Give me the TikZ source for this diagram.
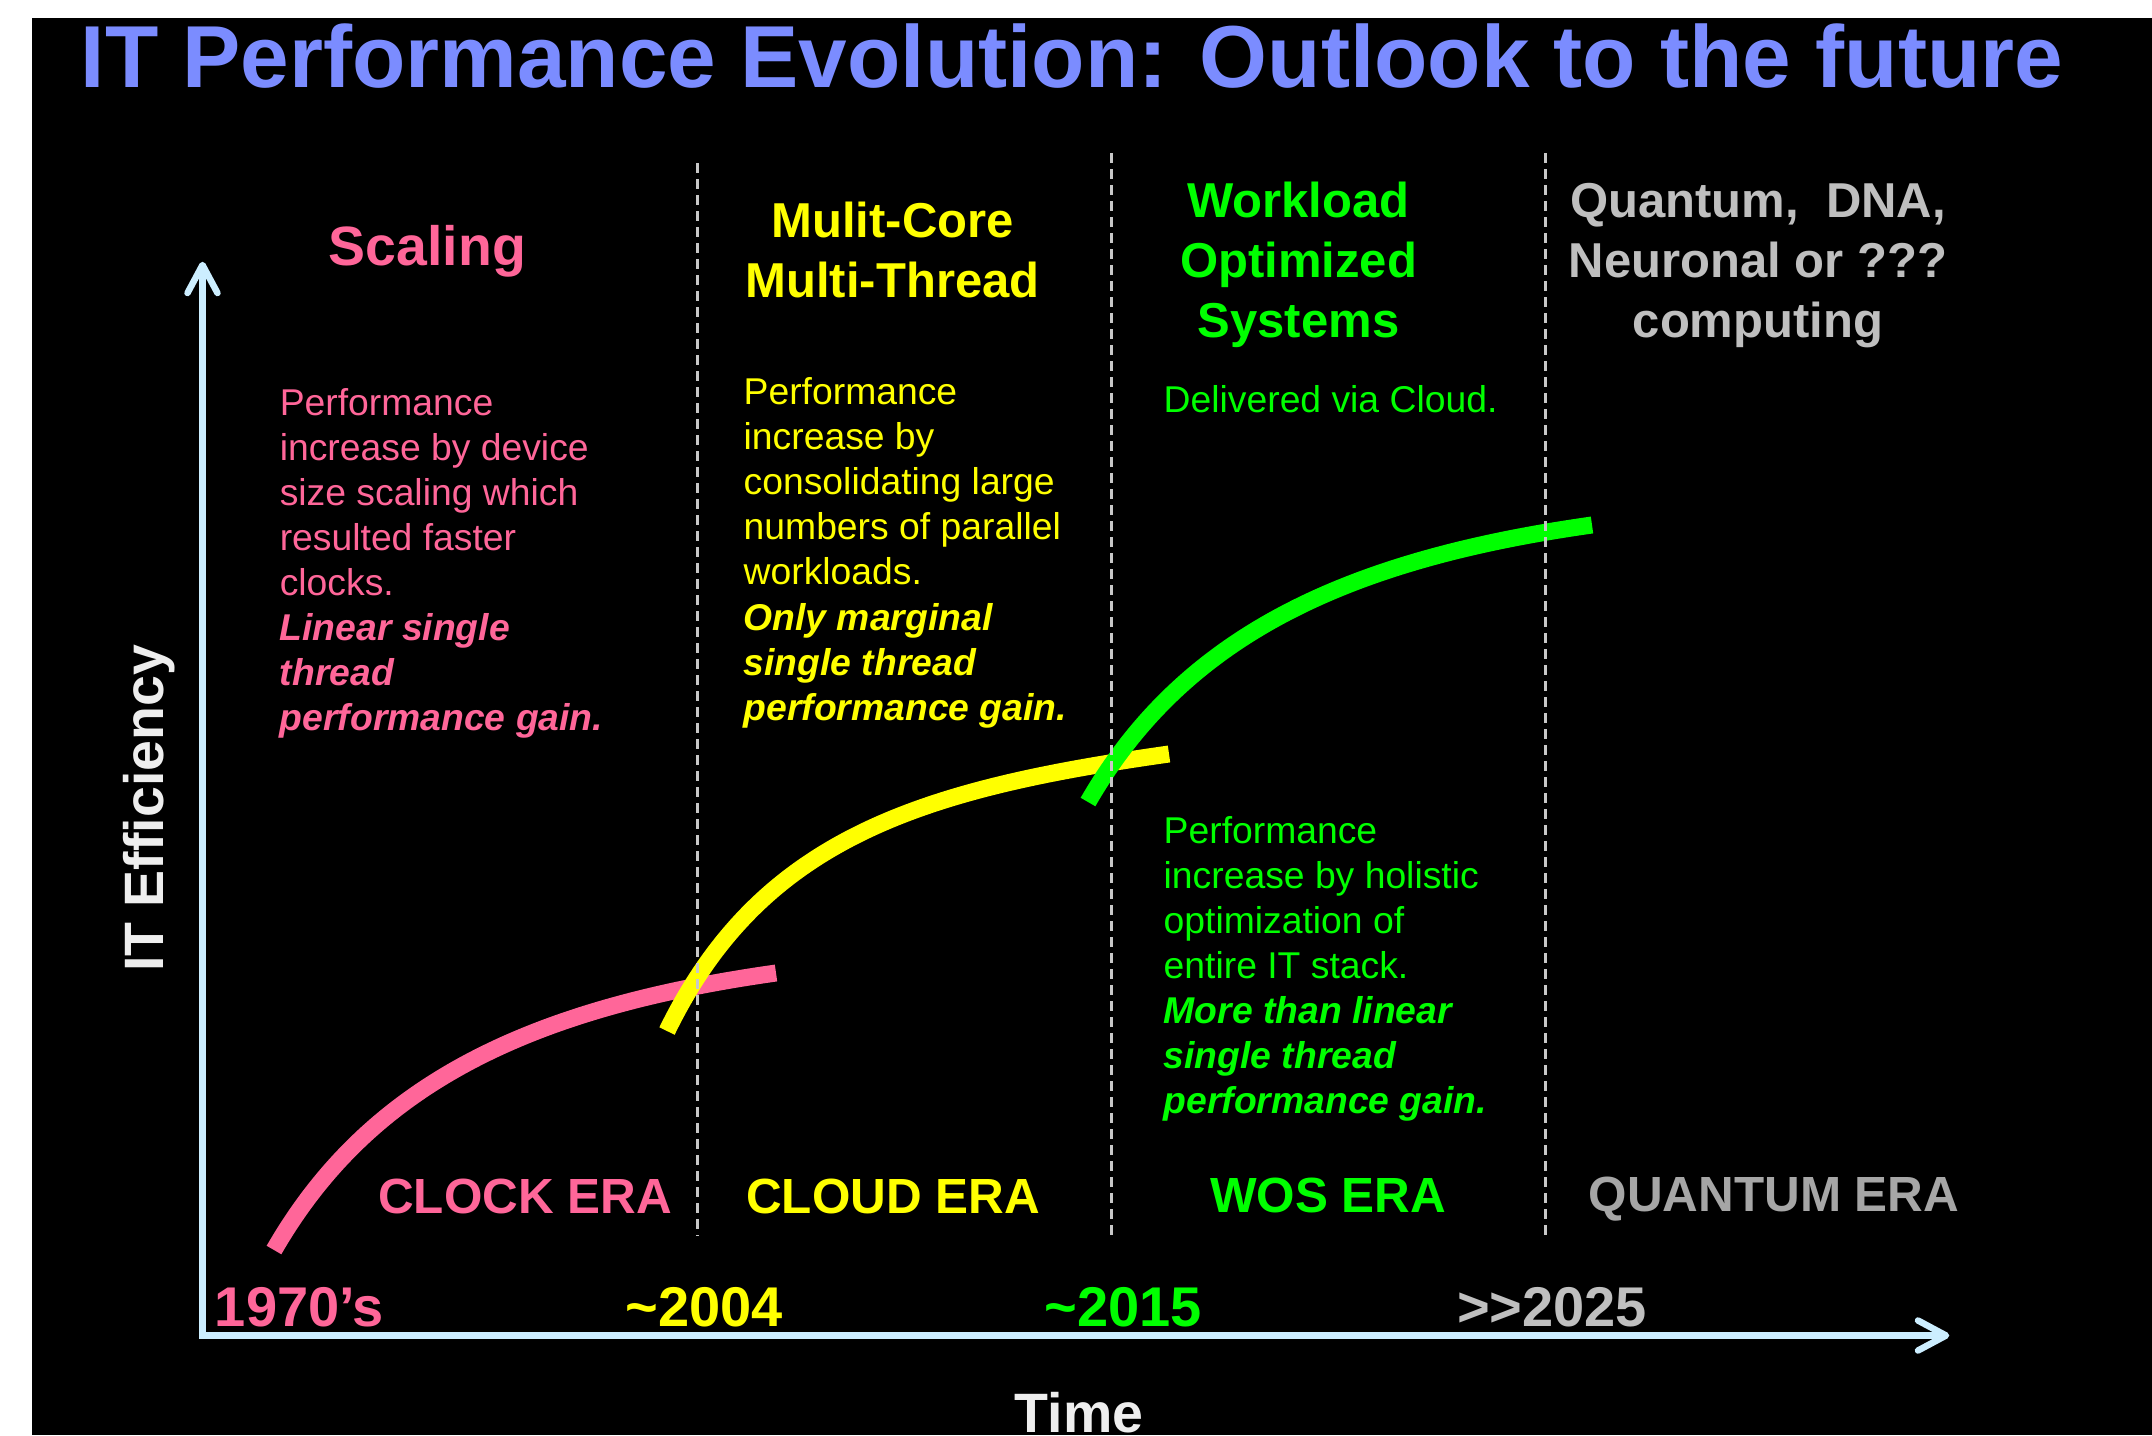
\documentclass[tikz,border=0pt]{standalone}
\usepackage{fontspec}
\setmainfont{Liberation Sans}
\usepackage{graphicx}

\definecolor{titleblue}{HTML}{7B8CFF}
\definecolor{pinkc}{HTML}{FF6699}
\definecolor{yellowc}{HTML}{FFFF00}
\definecolor{greenc}{HTML}{00FF00}
\definecolor{grayhead}{HTML}{BFBFBF}
\definecolor{grayera}{HTML}{A6A6A6}
\definecolor{axisblue}{HTML}{CCEEFF}
\definecolor{dashgray}{HTML}{C8C8C8}
\definecolor{labelwhite}{HTML}{EEEEEE}

% bold italic line inside a text block
\newcommand\bishape[1]{{\bfseries\itshape #1}}

\begin{document}
\begin{tikzpicture}[x=1pt,y=-1pt,
  every node/.style={inner sep=0pt, outer sep=0pt},
  lbl/.style={anchor=base},
  heading/.style={lbl, font=\fontsize{49}{60}\selectfont\bfseries},
  body/.style={anchor=base west, font=\fontsize{37.3}{45.1}\selectfont},
  era/.style={lbl, font=\fontsize{49.4}{59}\selectfont\bfseries},
  datelbl/.style={lbl, font=\fontsize{56}{67}\selectfont\bfseries},
  axislbl/.style={lbl, text=labelwhite, font=\fontsize{55.5}{66}\selectfont\bfseries},
  divider/.style={dashgray, line width=2.2pt, dash pattern=on 10pt off 6pt},
  trend/.style={line width=17pt, line cap=butt},
  axisline/.style={axisblue, line width=6.5pt, line cap=round, line join=miter},
  axishead/.style={axisblue, line width=6.5pt, line cap=round, line join=round},
]
% page and black slide area
\useasboundingbox (0,0) rectangle (2152,1435);
\fill[white] (0,0) rectangle (2152,1435);
\fill[black] (32,18) rectangle (2152,1435);

% performance curves of the three eras
\draw[trend, pinkc]   (274,1250) .. controls (369,1085) and (528,1008) .. (776,973);
\draw[trend, yellowc] (667,1031) .. controls (761,838) and (921,789) .. (1169,754);
\draw[trend, greenc]  (1088,802) .. controls (1183,637) and (1344,560) .. (1592,525);

% era dividers
\draw[divider] (697.5,163) -- (697.5,1236);
\draw[divider] (1111.5,153) -- (1111.5,1236);
\draw[divider] (1545.5,153) -- (1545.5,1236);

% axes
\draw[axisline] (202.5,268) -- (202.5,1335.5) -- (1943,1335.5);
\draw[axishead] (187.5,293) -- (202.5,265) -- (217.5,293);
\draw[axishead] (1918,1320.5) -- (1946,1335.5) -- (1918,1350.5);

% title
\node[lbl, text=titleblue, font=\fontsize{88}{100}\selectfont\bfseries] (title) at (1072,87)
  {\resizebox{1982pt}{\height}{IT Performance Evolution: Outlook to the future}};

% column headings
\node[lbl, text=pinkc, font=\fontsize{55.4}{66}\selectfont\bfseries] (scaling) at (427.5,265) {Scaling};
\node[heading, text=yellowc] (multicore) at (892.5,237)
  {\begin{tabular}[t]{@{}c@{}}Mulit-Core\\Multi-Thread\end{tabular}};
\node[heading, text=greenc] (workload) at (1298.5,217)
  {\begin{tabular}[t]{@{}c@{}}Workload\\Optimized\\Systems\end{tabular}};
\node[heading, text=grayhead] (quantum) at (1758,217)
  {\begin{tabular}[t]{@{}c@{}}Quantum,\ \ DNA,\\Neuronal or ???\\computing\end{tabular}};

% column texts
\node[body, text=pinkc] (clocktext) at (279.8,415)
  {\begin{tabular}[t]{@{}l@{}}Performance\\increase by device\\size scaling which\\resulted faster\\clocks.\\
   \bishape{Linear single}\\\bishape{thread}\\\bishape{performance gain.}\end{tabular}};
\node[body, text=yellowc] (cloudtext) at (743.7,404.5)
  {\begin{tabular}[t]{@{}l@{}}Performance\\increase by\\consolidating large\\numbers of parallel\\workloads.\\
   \bishape{Only marginal}\\\bishape{single thread}\\\bishape{performance gain.}\end{tabular}};
\node[body, text=greenc] (cloudnote) at (1163.7,412) {Delivered via Cloud.};
\node[body, text=greenc] (wostext) at (1163.7,843)
  {\begin{tabular}[t]{@{}l@{}}Performance\\increase by holistic\\optimization of\\entire IT stack.\\
   \bishape{More than linear}\\\bishape{single thread}\\\bishape{performance gain.}\end{tabular}};

% era names
\node[era, text=pinkc]   (clockera) at (525,1213) {CLOCK ERA};
\node[era, text=yellowc] (cloudera) at (893,1213) {CLOUD ERA};
\node[era, text=greenc]  (wosera)   at (1328,1212.5) {WOS ERA};
\node[era, text=grayera] (qera)     at (1774,1211) {QUANTUM ERA};

% dates on the time axis
\node[datelbl, text=pinkc]    (d1970) at (299.5,1326) {1970’s};
\node[datelbl, text=yellowc]  (d2004) at (704,1326) {\textasciitilde2004};
\node[datelbl, text=greenc]   (d2015) at (1123,1326) {\textasciitilde2015};
\node[datelbl, text=grayhead] (d2025) at (1552,1326) {>\kern0pt>2025};

% axis labels
\node[axislbl] (time) at (1079,1432) {Time};
\node[axislbl, rotate=90] (efficiency) at (163,808.5) {IT Efficiency};
\end{tikzpicture}
\end{document}
